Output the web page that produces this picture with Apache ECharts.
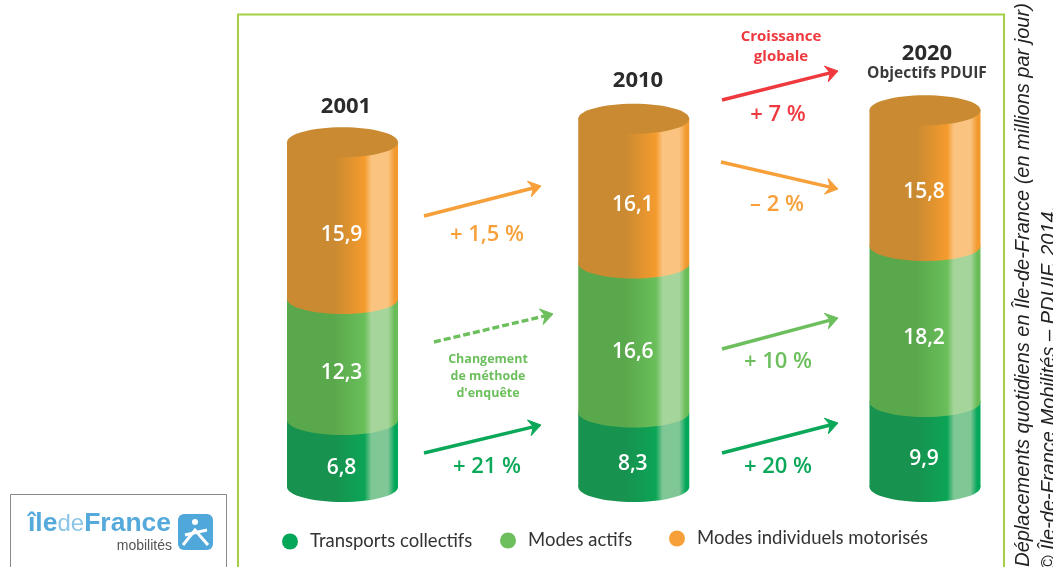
<!DOCTYPE html>
<html><head><meta charset="utf-8">
<style>html,body{margin:0;padding:0;background:#fff}#c{width:1053px;height:567px}</style>
<script src="https://cdn.jsdelivr.net/npm/echarts@6/dist/echarts.min.js"></script>
</head><body><div id="c"></div>
<script>
const categories = ['2001', '2010', '2020'];
const transportsCollectifs = [6.8, 8.3, 9.9];
const modesActifs = [12.3, 16.6, 18.2];
const modesIndividuels = [15.9, 16.1, 15.8];
const seriesNames = ['Transports collectifs', 'Modes actifs', 'Modes individuels motorisés'];
const trendLabels = ['+ 1,5 %', '+ 21 %', '+ 7 %', '– 2 %', '+ 10 %', '+ 20 %'];

const FONT = '"Open Sans"';
const ORANGE = '#f7a03a', GREEN = '#6cbf5c', DARK = '#0aa858', RED = '#ee3a3f';
const RX = 55.5, RY = 15;
const grad = (a, b, c, d) => new echarts.graphic.LinearGradient(0, 0, 1, 0, [
  {offset: 0, color: a}, {offset: .42, color: a}, {offset: .7, color: b},
  {offset: .76, color: c}, {offset: .91, color: c}, {offset: .97, color: d}, {offset: 1, color: d}]);
const fills = [
  grad('#17924f', '#0ca556', '#7fc795', '#03a75a'),
  grad('#5aa84c', '#6abf5a', '#a5d59b', '#69bc58'),
  grad('#c98a31', '#f59b2d', '#fbc380', '#f29a30')];
const rows = [transportsCollectifs, modesActifs, modesIndividuels];

function renderSegment(mode) {
  return function (params, api) {
    const c = api.coord([api.value(0), api.value(1)]);
    const t = api.coord([api.value(0), api.value(2)]);
    const value = rows[mode][api.value(0)];
    const fill = fills[mode];
    const children = [
      {type: 'rect', shape: {x: c[0] - RX, y: t[1], width: 2 * RX, height: c[1] - t[1]}, style: {fill}},
      {type: 'ellipse', shape: {cx: c[0], cy: c[1], rx: RX, ry: RY}, style: {fill}}
    ];
    if (mode === 2) {
      children.push({type: 'ellipse', shape: {cx: t[0], cy: t[1], rx: RX, ry: RY}, style: {fill: '#c98a31'}});
    }
    children.push({type: 'text', style: {
      x: c[0] - 1, y: (c[1] + t[1]) / 2 + 14, text: String(value).replace('.', ','),
      fill: '#fff', font: '600 21px ' + FONT, textAlign: 'center', textVerticalAlign: 'middle'}});
    return {type: 'group', children};
  };
}

const series = [];
[0, 1, 2].forEach(mode => {
  categories.forEach((cat, i) => {
    let base = 0;
    for (let m = 0; m < mode; m++) base += rows[m][i];
    series.push({
      type: 'custom', name: seriesNames[mode], yAxisIndex: i,
      renderItem: renderSegment(mode), silent: true,
      encode: {x: 0, y: [1, 2]},
      data: [[i, +base.toFixed(1), +(base + rows[mode][i]).toFixed(1)]]
    });
  });
});

function txt(text, x, y, font, fill, extra) {
  return {type: 'text', x, y, style: Object.assign({text, font, fill, textAlign: 'center', textVerticalAlign: 'middle'}, extra || {})};
}
function arrow(x1, y1, x2, y2, color, dashed) {
  const a = Math.atan2(y2 - y1, x2 - x1), L = 11, W = 8, N = 8;
  const p = (d, s) => [x2 - d * Math.cos(a) - s * Math.sin(a), y2 - d * Math.sin(a) + s * Math.cos(a)];
  const n = p(N, 0);
  return [
    {type: 'line', shape: {x1, y1, x2: n[0], y2: n[1]}, style: {stroke: color, lineWidth: 3.4, lineDash: dashed ? [7, 3] : null}},
    {type: 'polygon', shape: {points: [p(0, 0), p(L + 1, W), p(N, 0), p(L + 1, -W)]}, style: {fill: color, stroke: color, lineWidth: 1}}
  ];
}
const big = '600 22px ' + FONT;
const graphics = [
  {type: 'rect', shape: {x: 238, y: 14.5, width: 766, height: 580}, style: {fill: 'none', stroke: '#a3cf45', lineWidth: 2}},
  txt(categories[0], 346, 107, '700 22px ' + FONT, '#2b2b2b'),
  txt(categories[1], 638, 81, '700 22px ' + FONT, '#2b2b2b'),
  txt(categories[2], 927, 54, '700 22px ' + FONT, '#2b2b2b'),
  txt('Objectifs PDUIF', 927, 74, '700 15.5px ' + FONT, '#3a3a3a'),
  txt('Croissance', 781, 37, '700 15px ' + FONT, RED),
  txt('globale', 781, 57, '700 15px ' + FONT, RED),
  txt('Changement', 488, 359, '700 12.5px ' + FONT, GREEN),
  txt('de méthode', 488, 376, '700 12.5px ' + FONT, GREEN),
  txt("d'enquête", 488, 393, '700 12.5px ' + FONT, GREEN),
  txt(trendLabels[0], 487, 235, big, ORANGE),
  txt(trendLabels[1], 487, 467, big, DARK),
  txt(trendLabels[2], 778, 115, big, RED),
  txt(trendLabels[3], 777, 205, big, ORANGE),
  txt(trendLabels[4], 778, 362, big, GREEN),
  txt(trendLabels[5], 778, 467, big, DARK),
  ...arrow(424, 216, 541, 186, ORANGE),
  ...arrow(434, 342, 553, 314, GREEN, true),
  ...arrow(424, 453, 541, 425, DARK),
  ...arrow(722, 100, 838, 71, RED),
  ...arrow(721, 162, 838, 189, ORANGE),
  ...arrow(722, 349, 838, 318, GREEN),
  ...arrow(722, 453, 838, 423, DARK),
  {type: 'text', x: 1023, y: 285, rotation: Math.PI / 2, style: {
    text: 'Déplacements quotidiens en Île-de-France (en millions par jour)',
    font: 'italic 20px "Liberation Sans"', fill: '#222', textAlign: 'center', textVerticalAlign: 'middle'}},
  {type: 'text', x: 1049, y: 388, rotation: Math.PI / 2, style: {
    text: '© Île-de-France Mobilités – PDUIF, 2014.',
    font: 'italic 20px "Liberation Sans"', fill: '#222', textAlign: 'center', textVerticalAlign: 'middle'}},
  {type: 'rect', shape: {x: 10.5, y: 494.5, width: 216, height: 90}, style: {fill: '#fff', stroke: '#8a8a8a', lineWidth: 1}},
  {type: 'text', x: 28, y: 524, style: {
    text: '{a|île}{b|de}{a|France}', textVerticalAlign: 'middle',
    rich: {a: {font: '700 26.5px "Liberation Sans"', fill: '#55aadb'}, b: {font: '400 24px "Liberation Sans"', fill: '#8cc6e6'}}}},
  {type: 'text', x: 172, y: 546, style: {text: 'mobilités', font: '400 14px "Liberation Sans"', fill: '#555', textAlign: 'right', textVerticalAlign: 'middle'}},
  {type: 'rect', shape: {x: 178, y: 514, width: 35, height: 36, r: 6}, style: {fill: '#4fa7da'}},
  {type: 'circle', shape: {cx: 195, cy: 522, r: 3}, style: {fill: '#fff'}},
  {type: 'line', shape: {x1: 185, y1: 535, x2: 207, y2: 530}, style: {stroke: '#fff', lineWidth: 3}},
  {type: 'polyline', shape: {points: [[183, 545], [195, 530], [208, 545]]}, style: {stroke: '#fff', lineWidth: 3, fill: 'none'}}
];

function legendItem(i, color, left, top) {
  return {left, top, itemWidth: 16, itemHeight: 16, selectedMode: false, itemGap: 0,
    data: [{name: seriesNames[i], icon: 'circle', itemStyle: {color}}],
    textStyle: {fontFamily: 'Lato', fontSize: 18.5, color: '#333', padding: [0, 0, 0, 7]}};
}
const hiddenY = max => ({type: 'value', min: 0, max, show: false});

const chart = echarts.init(document.getElementById('c'), null, {renderer: 'canvas'});
chart.setOption({
  animation: false,
  backgroundColor: '#fff',
  grid: {left: 342.5, width: 582.5, top: 100, height: 387},
  xAxis: {type: 'category', data: categories, boundaryGap: false, show: false},
  yAxis: [hiddenY(39.3), hiddenY(43.1), hiddenY(45.1)],
  legend: [
    legendItem(0, '#04a657', 277, 527),
    legendItem(1, GREEN, 495, 526),
    legendItem(2, ORANGE, 664, 524)
  ],
  graphic: {elements: graphics},
  series
});
</script></body></html>
